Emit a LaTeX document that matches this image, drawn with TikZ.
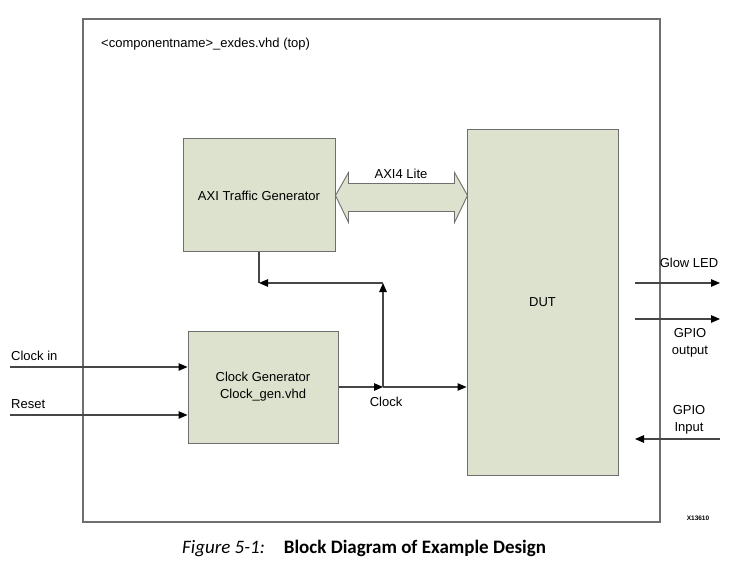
\documentclass[tikz,border=0pt]{standalone}
\usepackage{fontspec}
\setmainfont{Liberation Sans}
\newfontfamily\captionfont{Carlito}
\usetikzlibrary{positioning, arrows.meta}

\definecolor{blockfill}{RGB}{221,226,206}
\definecolor{blockline}{RGB}{110,110,110}
\definecolor{wireline}{RGB}{70,70,70}

\begin{document}
\begin{tikzpicture}[
        x=1pt, y=-1pt,
        font=\fontsize{13}{17}\selectfont,
        block_node/.style={draw=blockline, fill=blockfill, rectangle, line width=1pt, align=center, inner sep=0pt},
        label_node/.style={align=center, inner sep=1pt},
        arrow/.style={-{Triangle[length=9pt, width=7.5pt, color=black]}, line width=1.1pt, draw=wireline},
        wire/.style={line width=1.1pt, draw=wireline},
        bus/.style={draw=blockline, fill=blockfill, line width=0.9pt}
    ]
        \useasboundingbox (0,0) rectangle (741,569);

        % Nodes
        \node (top) [draw=blockline, line width=1.1pt, minimum width=577pt, minimum height=503pt, inner sep=0pt] at (371.5,270.5) {};
        \node (topname) [label_node, anchor=west] at (100,44) {<componentname>\_exdes.vhd (top)};
        \node (axigen) [block_node, minimum width=152pt, minimum height=113pt] at (259,195.5) {AXI Traffic Generator};
        \node (clkgen) [block_node, minimum width=150pt, minimum height=112pt] at (263,387) {Clock Generator\\Clock\_gen.vhd};
        \node (dut) [block_node, minimum width=151pt, minimum height=345pt] at (542.5,302.5) {DUT};

        % AXI4 Lite bus
        \draw [bus] (axigen.east) -- ++(13,-23) -- ++(0,11) -- ++(106,0) -- ++(0,-11) -- ++(13,23)
            -- ++(-13,27) -- ++(0,-11) -- ++(-106,0) -- ++(0,11) -- cycle;
        \node (buslabel) [label_node] at (401,174) {AXI4 Lite};

        % Clock distribution
        \coordinate (clkjoin) at (383,387);
        \coordinate (clkturn) at (383,283);
        \draw [arrow] (clkgen.east |- clkjoin) -- (clkjoin);
        \draw [arrow] (clkjoin) -- (dut.west |- clkjoin);
        \draw [arrow] (clkjoin) -- (clkturn);
        \draw [wire] (axigen.south) -- (axigen.south |- clkturn);
        \draw [arrow] (clkturn) -- (axigen.south |- clkturn);
        \node (clklabel) [label_node] at (386,402) {Clock};

        % Inputs
        \coordinate (clkin) at (10,367);
        \coordinate (rstin) at (10,415);
        \draw [arrow] (clkin) -- (clkgen.west |- clkin);
        \draw [arrow] (rstin) -- (clkgen.west |- rstin);
        \node (clkinlabel) [label_node, anchor=south west] at ([yshift=5pt]clkin) {Clock in};
        \node (rstlabel) [label_node, anchor=south west] at ([yshift=5pt]rstin) {Reset};

        % Outputs
        \coordinate (ledsrc) at (635,283);
        \coordinate (ledout) at (720,283);
        \coordinate (gposrc) at (635,319);
        \coordinate (gpoout) at (720,319);
        \coordinate (gpiin) at (720,439);
        \coordinate (gpidst) at (635,439);
        \draw [arrow] (ledsrc) -- (ledout);
        \draw [arrow] (gposrc) -- (gpoout);
        \draw [arrow] (gpiin) -- (gpidst);
        \node (ledlabel) [label_node] at (689,263) {Glow LED};
        \node (gpolabel) [label_node] at (690,343) {GPIO\\output};
        \node (gpilabel) [label_node] at (689,420) {GPIO\\Input};

        \node (figid) [label_node, font=\fontsize{6.5}{8}\selectfont\bfseries] at (698,518) {X13610};

        % Caption
        \node (caption) [anchor=west, inner sep=0pt, font=\captionfont\fontsize{19}{22}\selectfont] at (182,548)
            {\textit{Figure 5-1:}\hspace{19pt}\textbf{Block Diagram of Example Design}};
    \end{tikzpicture}
\end{document}
